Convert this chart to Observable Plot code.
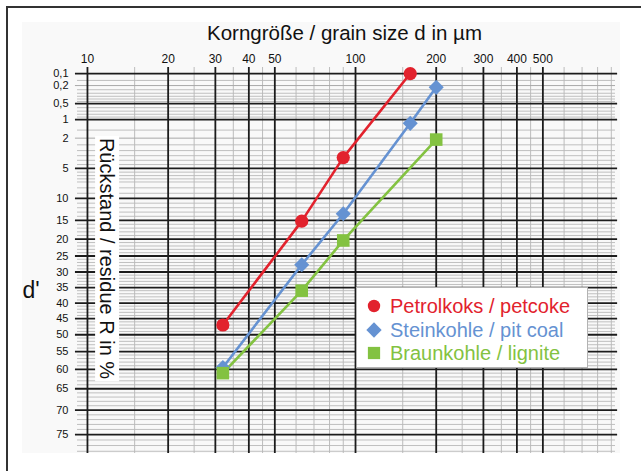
<!DOCTYPE html>
<html>
<head>
<meta charset="utf-8">
<script src="https://cdn.jsdelivr.net/npm/d3@7"></script>
<script src="https://cdn.jsdelivr.net/npm/@observablehq/plot@0.6"></script>
<style>
  html, body { margin: 0; padding: 0; background: #fff; }
  #wrap { position: relative; width: 641px; height: 471px; overflow: hidden; font-family: "Liberation Sans", Arial, sans-serif; }
  #bg { position: absolute; left: 22px; top: 22px; width: 598px; height: 431px; background: #f9f9f9; }
  #border { position: absolute; left: 6px; top: 6px; width: 700px; height: 500px; border-left: 2px solid #333; border-top: 2px solid #333; pointer-events: none; }
  #chart { position: absolute; left: 0; top: 0; }
  #legend { position: absolute; left: 356px; top: 287px; width: 230px; height: 79px; background: #fff; border: 1px solid #b3b3b3; }
  .row { position: absolute; left: 0; height: 24px; width: 230px; }
  .row svg { position: absolute; left: 8px; top: 3px; }
  .row span { position: absolute; left: 33px; top: 0; line-height: 24px; font-size: 20px; white-space: nowrap; }
</style>
</head>
<body>
<div id="wrap">
  <div id="bg"></div>
  <div id="chart"></div>
  <div id="legend"></div>
  <div id="border"></div>
</div>
<script>
// ---- data ----
const seriesNames = ["Petrolkoks / petcoke", "Steinkohle / pit coal", "Braunkohle / lignite"];
const seriesColors = ["#e2222d", "#6592d2", "#83c241"];
const seriesSymbols = ["circle", "diamond2", "square"];

const petcokeD = [32, 63, 90, 160];
const petcokeR = [47, 15.2, 3.7, 0.1];
const pitCoalD = [32, 63, 90, 160, 200];
const pitCoalR = [59.5, 27.7, 13.4, 1.16, 0.22];
const ligniteD = [32, 63, 90, 200];
const ligniteR = [61, 36, 20.4, 2.1];

const titleText = "Korngröße / grain size d in µm";
const yTitleText = "Rückstand / residue R in %";
const dPrimeText = "d'";

const xMajor = [10, 20, 30, 40, 50, 100, 200, 300, 400, 500];
const xMinor = [15, 25, 35, 45, 60, 70, 80, 90, 150, 250, 350, 450, 600, 700, 800, 900];
const xTickLabels = ["10", "20", "30", "40", "50", "100", "200", "300", "400", "500"];

const yTickValues = [0.1, 0.2, 0.5, 1, 2, 5, 10, 15, 20, 25, 30, 35, 40, 45, 50, 55, 60, 65, 70, 75];
const yTickLabels = ["0,1", "0,2", "0,5", "1", "2", "5", "10", "15", "20", "25", "30", "35", "40", "45", "50", "55", "60", "65", "70", "75"];
const yMajor = [0.1, 0.5, 1, 5, 10, 15, 20, 25, 30, 35, 40, 45, 50, 55, 60, 65, 70, 75];
const yLabeledMinor = [0.2, 2];
const yMinor = [0.15, 0.25, 0.3, 0.35, 0.4, 0.45, 0.6, 0.7, 0.8, 0.9,
  1.5, 2.5, 3, 3.5, 4, 4.5, 5.5, 6, 6.5, 7, 8, 9,
  11, 12, 13, 14, 16, 17, 18, 19, 21, 22, 23, 24, 26, 27, 28, 29,
  31, 32, 33, 34, 36, 37, 38, 39, 41, 42, 43, 44, 46, 47, 48, 49,
  51, 52, 53, 54, 56, 57, 58, 59, 61, 62, 63, 64, 66, 67, 68, 69,
  71, 72, 73, 74, 76, 77, 78];

// ---- RRSB transform: t = ln(ln(100/R)) ----
const rrsb = R => Math.log(Math.log(100 / R));
const rows = (vals) => vals.map(R => ({R, t: rrsb(R)}));

const pts = [];
[[petcokeD, petcokeR], [pitCoalD, pitCoalR], [ligniteD, ligniteR]].forEach(([D, R], i) => {
  D.forEach((d, j) => pts.push({series: seriesNames[i], d, R: R[j], t: rrsb(R[j])}));
});

const FONT = "'Liberation Sans', Arial, Helvetica, sans-serif";
const xLeftTick = 9.02, xRightMajor = 950, xRightFrame = 933;

const dotMarks = seriesNames.map((name, i) =>
  Plot.dot(pts.filter(p => p.series === name), {
    x: "d", y: "t", fill: seriesColors[i], stroke: "none",
    symbol: seriesSymbols[i], r: [6.6, 6.8, 7.1][i]
  }));

const svg = Plot.plot({
  width: 641, height: 471,
  marginLeft: 77, marginRight: 26, marginTop: 67, marginBottom: 18,
  style: {background: "transparent", fontFamily: FONT, overflow: "visible"},
  x: {type: "log", domain: [9.18, 933], axis: null},
  y: {domain: [-1.412, 1.986], axis: null},
  marks: [
    Plot.ruleX(xMinor, {x: d => d, stroke: "#bcbcbc", strokeWidth: 1}),
    Plot.ruleY(rows(yMinor), {y: "t", stroke: "#b9b9b9", strokeWidth: 0.9}),
    Plot.ruleY(rows(yLabeledMinor), {y: "t", x1: xLeftTick, x2: xRightFrame, stroke: "#a8a8a8", strokeWidth: 1}),
    Plot.ruleX(xMajor, {x: d => d, stroke: "#1c1c1c", strokeWidth: 1.8}),
    Plot.ruleY(rows(yMajor), {y: "t", x1: xLeftTick, x2: xRightMajor, stroke: "#1c1c1c", strokeWidth: 1.8}),
    ...seriesNames.map((name, i) =>
      Plot.line(pts.filter(p => p.series === name), {x: "d", y: "t", stroke: seriesColors[i], strokeWidth: 2.6})),
    ...dotMarks,
    Plot.text(xMajor, {x: d => d, text: (d, i) => xTickLabels[i], frameAnchor: "top", lineAnchor: "middle", dy: -8.5, fontSize: 12, fill: "#111"}),
    Plot.text(rows(yTickValues), {y: "t", text: (d, i) => yTickLabels[i], frameAnchor: "left", lineAnchor: "middle", dx: -9, textAnchor: "end", fontSize: 11, fill: "#111"}),
    Plot.text([titleText], {text: d => d, frameAnchor: "top", lineAnchor: "middle", dx: -2, dy: -34.5, fontSize: 20.5, fill: "#111"}),
    Plot.text([yTitleText], {text: d => d, frameAnchor: "left", lineAnchor: "middle", dx: 29, dy: -2, rotate: 90, textAnchor: "middle", fontSize: 20, fill: "#111"}),
    Plot.text([dPrimeText], {text: d => d, frameAnchor: "left", lineAnchor: "middle", dx: -55, dy: 30, textAnchor: "start", fontSize: 23, fill: "#111"})
  ]
});

document.getElementById("chart").appendChild(svg);

// white box behind the rotated axis title (measured from the rendered text)
const svgBox = svg.getBoundingClientRect();
for (const t of svg.querySelectorAll("text")) {
  if (t.textContent === yTitleText) {
    const r = t.getBoundingClientRect();
    let g = t;
    while (g.parentNode && g.parentNode !== svg) g = g.parentNode;
    const rect = document.createElementNS("http://www.w3.org/2000/svg", "rect");
    rect.setAttribute("x", r.left - svgBox.left - 1);
    rect.setAttribute("y", r.top - svgBox.top - 2);
    rect.setAttribute("width", r.width + 2);
    rect.setAttribute("height", r.height + 4);
    rect.setAttribute("fill", "#fff");
    svg.insertBefore(rect, g);
  }
}

// legend
const legend = document.getElementById("legend");
const rowCenters = [18, 42, 65];
seriesNames.forEach((name, i) => {
  const row = document.createElement("div");
  row.className = "row";
  row.style.top = (rowCenters[i] - 12) + "px";
  const sym = d3.symbol(i === 0 ? d3.symbolCircle : i === 1 ? d3.symbolDiamond2 : d3.symbolSquare,
    i === 0 ? Math.PI * 6.2 * 6.2 : 150)();
  row.innerHTML = `<svg width="18" height="18" viewBox="-9 -9 18 18"><path d="${sym}" fill="${seriesColors[i]}"/></svg><span style="color:${seriesColors[i]}">${name}</span>`;
  legend.appendChild(row);
});
</script>
</body>
</html>
